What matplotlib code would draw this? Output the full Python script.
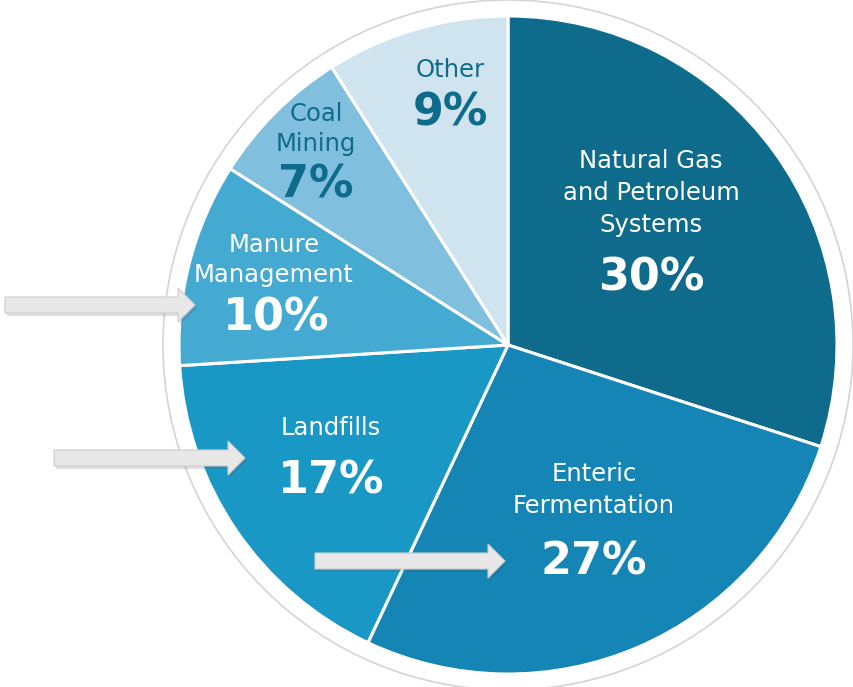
import matplotlib.pyplot as plt
from matplotlib import patches

# methane emission sources, share of total (%)
sources = ["Natural Gas\nand Petroleum\nSystems", "Enteric\nFermentation", "Landfills",
           "Manure\nManagement", "Coal\nMining", "Other"]
shares = [30, 27, 17, 10, 7, 9]
colors = ["#0e6b8c", "#1485b4", "#1a98c5", "#45aad2", "#80bfdd", "#cfe4ef"]
text_colors = ["white", "white", "white", "white", "#0e6b8c", "#0e6b8c"]

# label anchor points (pixel coords, y measured from top)
name_xy = [(651, 193), (594, 490), (331, 428), (274, 260), (316, 129), (450, 70)]
pct_xy = [(651, 278), (594, 562), (331, 481), (276, 318), (316, 185), (450, 113)]
line_gap = [1.42, 1.42, 1.3, 1.3, 1.3, 1.3]

W, H = 854, 687
fig = plt.figure(figsize=(W / 100, H / 100), dpi=100)
ax = fig.add_axes([0, 0, 1, 1])

cx, cy = 508, H - 345

# thin grey ring around the pie
ax.add_patch(patches.Circle((cx, cy), 345, facecolor="white", edgecolor="#d4d4d4", lw=1.2, zorder=0))

ax.pie(shares, colors=colors, startangle=90, counterclock=False, center=(cx, cy), radius=329,
       wedgeprops=dict(edgecolor="white", linewidth=2.2), frame=True)
ax.set_xlim(0, W)
ax.set_ylim(0, H)
ax.set_aspect("equal")
ax.axis("off")

for name, pct, c, (nx, ny), (px, py), ls in zip(sources, shares, text_colors, name_xy, pct_xy, line_gap):
    ax.text(nx, H - ny, name, ha="center", va="center", color=c, fontsize=17.5,
            family="DejaVu Sans", linespacing=ls, zorder=5)
    ax.text(px, H - py, f"{pct}%", ha="center", va="center", color=c, fontsize=32,
            family="DejaVu Sans", weight="bold", zorder=5)

# callout arrows: (left x, tip x, centre y)
arrows = [(5, 195, 305), (54, 245, 458), (315, 505, 561)]
for x0, x1, y in arrows:
    yy = H - y
    kw = dict(width=16, head_width=34, head_length=17, length_includes_head=True)
    ax.add_patch(patches.FancyArrow(x0 + 2, yy - 3, x1 - x0, 0, facecolor="#555555",
                                    edgecolor="none", alpha=0.18, zorder=6, **kw))
    ax.add_patch(patches.FancyArrow(x0, yy, x1 - x0, 0, facecolor="#e8e8e8",
                                    edgecolor="#cdcdcd", lw=0.8, zorder=7, **kw))

fig.savefig("out.png", dpi=100)
